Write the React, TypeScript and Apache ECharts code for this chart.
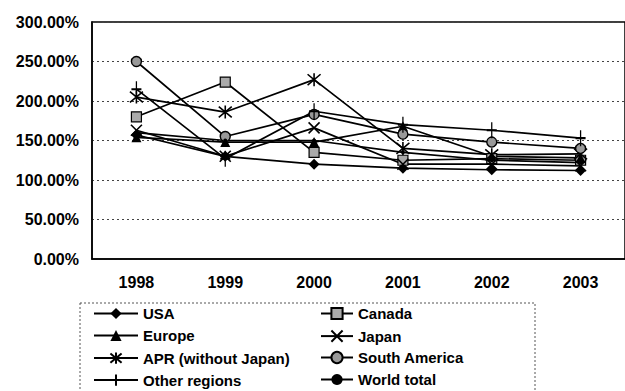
import React, { useEffect, useRef } from "react";
import * as echarts from "echarts";

const years = ["1998", "1999", "2000", "2001", "2002", "2003"];
const yTicks = [0, 50, 100, 150, 200, 250, 300];

const usa = [157, 130, 120, 115, 113, 112];
const canada = [180, 224, 135, 125, 127, 125];
const europe = [154, 148, 148, 168, 130, 128];
const japan = [163, 130, 166, 120, 120, 118];
const apr = [205, 186, 227, 140, 132, 133];
const southAmerica = [250, 155, 183, 158, 148, 140];
const otherRegions = [215, 127, 187, 170, 163, 153];
const worldTotal = [160, 150, 150, 135, 125, 122];

const leftLegend = ["USA", "Europe", "APR (without Japan)", "Other regions"];
const rightLegend = ["Canada", "Japan", "South America", "World total"];

const FONT = "'Liberation Sans', Arial, sans-serif";

const X_PATH = "path://M0,0L10,10M10,0L0,10";
const STAR_PATH = "path://M0,0L10,10M10,0L0,10M5,-1L5,11";
const PLUS_PATH = "path://M5,0L5,16M0,8L10,8";

function mkSeries(name: string, data: number[], symbol: string, size: number | number[], fill: string, bw: number) {
  return {
    name,
    type: "line",
    data,
    symbol,
    symbolSize: size,
    showSymbol: true,
    lineStyle: { color: "#000", width: 1.7 },
    itemStyle: { color: fill, borderColor: "#000", borderWidth: bw },
    emphasis: { disabled: true },
    z: 3,
  };
}

export default function App() {
  const ref = useRef<HTMLDivElement>(null);
  useEffect(() => {
    if (!ref.current) return;
    const chart = echarts.init(ref.current, null, { renderer: "svg" });
    const legendText = { color: "#000", fontSize: 15, fontWeight: "bold", fontFamily: FONT };
    const legends: any[] = [];
    leftLegend.forEach((n, i) => {
      legends.push({
        left: 93,
        top: 306 + i * 22,
        itemWidth: 44,
        itemHeight: 14,
        itemGap: 3,
        textStyle: legendText,
        data: [n],
        selectedMode: false,
        padding: 0,
      });
    });
    rightLegend.forEach((n, i) => {
      legends.push({
        left: 320,
        top: 306 + i * 22,
        itemWidth: 32,
        itemHeight: 14,
        itemGap: 3,
        textStyle: legendText,
        data: [n],
        selectedMode: false,
        padding: 0,
      });
    });
    chart.setOption({
      animation: false,
      backgroundColor: "#fff",
      grid: {
        left: 92,
        top: 22,
        right: -2,
        bottom: 132,
        show: true,
        borderColor: "#000",
        borderWidth: 1.5,
      },
      xAxis: {
        type: "category",
        data: years,
        boundaryGap: true,
        axisLine: { show: true, lineStyle: { color: "#000", width: 1.5 } },
        axisTick: { show: false },
        axisLabel: { color: "#000", fontSize: 16, fontWeight: "bold", fontFamily: FONT, margin: 15 },
        splitLine: { show: false },
      },
      yAxis: {
        type: "value",
        min: yTicks[0],
        max: yTicks[yTicks.length - 1],
        interval: 50,
        axisLine: { show: true, lineStyle: { color: "#000", width: 1.5 } },
        axisTick: { show: false },
        axisLabel: {
          color: "#000",
          fontSize: 16,
          fontWeight: "bold",
          fontFamily: FONT,
          margin: 13,
          formatter: (v: number) => v.toFixed(2) + "%",
        },
        splitLine: { show: true, lineStyle: { color: "#444", type: [2, 3], width: 1 } },
      },
      legend: legends,
      graphic: [
        {
          type: "rect",
          shape: { x: 80, y: 303, width: 455, height: 100 },
          style: { fill: "none", stroke: "#555", lineWidth: 1, lineDash: [2, 2] },
          silent: true,
        },
      ],
      series: [
        mkSeries("USA", usa, "diamond", 11, "#000", 0),
        mkSeries("Canada", canada, "rect", 10, "#aaa", 1.2),
        mkSeries("Europe", europe, "triangle", 10, "#000", 0),
        mkSeries("Japan", japan, X_PATH, 11, "none", 1.6),
        mkSeries("APR (without Japan)", apr, STAR_PATH, 13, "none", 1.6),
        mkSeries("South America", southAmerica, "circle", 10, "#999", 1.4),
        mkSeries("Other regions", otherRegions, PLUS_PATH, [10, 16], "none", 1.6),
        mkSeries("World total", worldTotal, "circle", 4, "#000", 0),
      ],
    });
    return () => chart.dispose();
  }, []);
  return (
    <div
      ref={ref}
      style={{ position: "fixed", left: 0, top: 0, width: 625, height: 391, background: "#fff" }}
    />
  );
}
